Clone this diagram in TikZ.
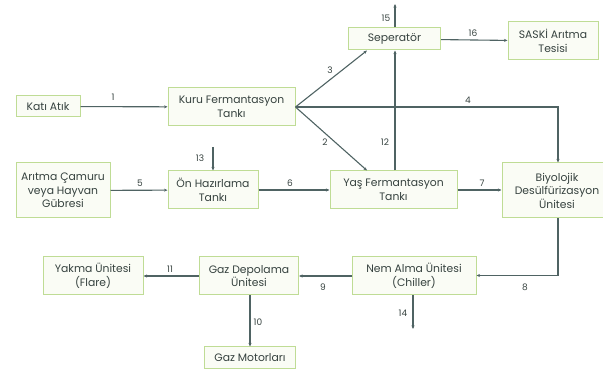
\documentclass[tikz,border=0pt]{standalone}
\usepackage{fontspec}
\setmainfont{Poppins}
\usetikzlibrary{arrows.meta}
\definecolor{boxborder}{HTML}{BFDC95}
\definecolor{boxfill}{HTML}{FAFCF5}
\definecolor{linecol}{HTML}{4F6363}
\definecolor{txtcol}{HTML}{36423F}
\begin{document}
\begin{tikzpicture}[x=1pt,y=-1pt,
  box/.style={draw=boxborder,fill=boxfill,line width=1pt,inner sep=1pt,align=center,
    text=txtcol,font=\fontsize{10.8}{13.5}\selectfont,anchor=center},
  conn/.style={draw=linecol,line width=1.1pt,-{Stealth[length=3.5pt,width=3pt]}},
  lab/.style={text=txtcol,font=\fontsize{9}{10}\selectfont,anchor=center,inner sep=0pt}]
\useasboundingbox (0,0) rectangle (603,371);
% nodes
\node[box,minimum width=64pt,minimum height=21pt] (kati) at (48,106.5) {Katı Atık};
\node[box,minimum width=127pt,minimum height=38pt] (kuru) at (231.5,107) {Kuru Fermantasyon\\Tankı};
\node[box,minimum width=92pt,minimum height=22pt] (sep) at (394.5,39) {Seperatör};
\node[box,minimum width=90pt,minimum height=38pt] (saski) at (553,41) {SASKİ Arıtma\\Tesisi};
\node[box,minimum width=94pt,minimum height=55pt] (arit) at (63,190.5) {Arıtma Çamuru\\veya Hayvan\\Gübresi};
\node[box,minimum width=90pt,minimum height=38pt] (on) at (213,190) {Ön Hazırlama\\Tankı};
\node[box,minimum width=127pt,minimum height=38pt] (yas) at (393.5,190) {Yaş Fermantasyon\\Tankı};
\node[box,minimum width=110pt,minimum height=55pt] (biyo) at (557,190.5) {Biyolojik\\Desülfürizasyon\\Ünitesi};
\node[box,minimum width=124pt,minimum height=38pt] (nem) at (414,276) {Nem Alma Ünitesi\\(Chiller)};
\node[box,minimum width=99pt,minimum height=38pt] (gaz) at (249,276) {Gaz Depolama\\Ünitesi};
\node[box,minimum width=100pt,minimum height=38pt] (yakma) at (93,276) {Yakma Ünitesi\\(Flare)};
\node[box,minimum width=91pt,minimum height=22pt] (motor) at (250,358) {Gaz Motorları};
% free ends
\coordinate (c13) at (213,147);
\coordinate (c14) at (413,329);
\coordinate (c15) at (395,4);
\coordinate (c4) at (558,107);
\coordinate (c8) at (558,275.5);
% connectors
\draw[conn] (kati) -- (kuru);
\draw[conn] (kuru.east) -- (sep.south west -| 367,0);
\draw[conn] (kuru.east) -- (yas.north west -| 367,0);
\draw[conn] (kuru.east) -- (c4) -- (biyo.north -| c4);
\draw[conn] (yas.north -| 395,0) -- (sep.south -| 395,0);
\draw[conn] (sep.north -| c15) -- (c15);
\draw[conn] (sep) -- (saski);
\draw[conn] (c13) -- (on);
\draw[conn] (arit) -- (on);
\draw[conn] (on) -- (yas);
\draw[conn] (yas) -- (biyo.west |- yas);
\draw[conn] (biyo.south -| c8) -- (c8) -- (nem.east |- c8);
\draw[conn] (nem) -- (gaz);
\draw[conn] (gaz) -- (yakma);
\draw[conn] (gaz.south -| motor) -- (motor);
\draw[conn] (nem.south -| c14) -- (c14);
% labels
\node[lab] (l1) at (113,97) {1};
\node[lab] (l2) at (325,142) {2};
\node[lab] (l3) at (330,70) {3};
\node[lab] (l4) at (468,100) {4};
\node[lab] (l5) at (140,183) {5};
\node[lab] (l6) at (290,183) {6};
\node[lab] (l7) at (482,183) {7};
\node[lab] (l8) at (525,287) {8};
\node[lab] (l9) at (323,287) {9};
\node[lab] (l10) at (258,322) {10};
\node[lab] (l11) at (170,269) {11};
\node[lab] (l12) at (385,142) {12};
\node[lab] (l13) at (200,158) {13};
\node[lab] (l14) at (403,313) {14};
\node[lab] (l15) at (386,18) {15};
\node[lab] (l16) at (473,33) {16};
\end{tikzpicture}
\end{document}
